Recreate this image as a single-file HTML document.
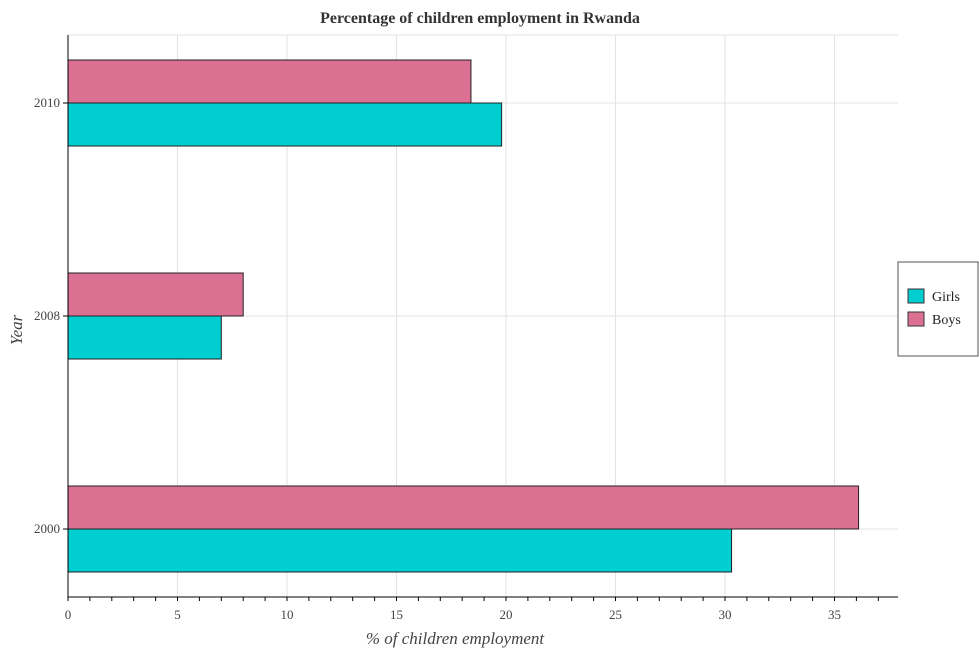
<!DOCTYPE html>
<html><head><meta charset="utf-8"><style>
body{margin:0;background:#fff;}
svg{font-family:"Liberation Serif",serif;}
</style></head><body>
<svg id="c" width="979" height="650" xmlns="http://www.w3.org/2000/svg">
<text x="480" y="23" text-anchor="middle" font-size="16" font-weight="bold" fill="#333">Percentage of children employment in Rwanda</text>
<g id="grid"></g><g id="bars"></g><g id="axes"></g>
<text x="455" y="644" text-anchor="middle" font-size="17" font-style="italic" fill="#444">% of children employment</text>
<text transform="translate(22,330) rotate(-90)" text-anchor="middle" font-size="17" font-style="italic" fill="#444">Year</text>
<g>
<rect x="898" y="262" width="80" height="94" fill="#fff" stroke="#555"/>
<rect x="908" y="289" width="16" height="14" fill="#00ced1" stroke="#333"/>
<text x="932" y="301" font-size="14" fill="#222">Girls</text>
<rect x="908" y="312" width="16" height="14" fill="#db7093" stroke="#333"/>
<text x="932" y="324" font-size="14" fill="#222">Boys</text>
</g>
</svg>
<script>
const years=["2010","2008","2000"];
const girls=[19.8,7.0,30.3];
const boys=[18.4,8.0,36.1];
const xTicks=[0,5,10,15,20,25,30,35];
const NS="http://www.w3.org/2000/svg";
const L=68,R=898,T=35,B=597,XMAX=37.9;
const xs=v=>L+v/XMAX*(R-L);
const pad=68;
const step=(B-T-2*pad)/(years.length-1);
const yc=i=>T+pad+step*i;
const bh=43;
function mk(p,tag,a){const e=document.createElementNS(NS,tag);for(const k in a)e.setAttribute(k,a[k]);p.appendChild(e);return e;}
const g=document.getElementById('grid'),b=document.getElementById('bars'),ax=document.getElementById('axes');
mk(g,'rect',{x:L,y:T,width:R-L,height:B-T,fill:'#fff'});
xTicks.forEach(t=>{const l=mk(g,'line',{x1:xs(t),x2:xs(t),y1:T,y2:B,stroke:'#e3e3e3'});

});
years.forEach((y,i)=>{const l=mk(g,'line',{x1:L,x2:R,y1:yc(i),y2:yc(i),stroke:'#e3e3e3'});

});
mk(g,'line',{x1:L,x2:R,y1:T,y2:T,stroke:'#e3e3e3'});
years.forEach((y,i)=>{
const rb=mk(b,'rect',{x:L,y:yc(i)-bh,width:xs(boys[i])-L,height:bh,fill:'#db7093',stroke:'#222'});


const rg=mk(b,'rect',{x:L,y:yc(i),width:xs(girls[i])-L,height:bh,fill:'#00ced1',stroke:'#222'});


mk(ax,'line',{x1:L-5,x2:L,y1:yc(i),y2:yc(i),stroke:'#000'});
const tl=mk(ax,'text',{x:L-8,y:yc(i)+4,'text-anchor':'end','font-size':13,fill:'#444'});
tl.textContent=y;


});
mk(ax,'line',{x1:L,x2:L,y1:T,y2:B,stroke:'#000'});
mk(ax,'line',{x1:L,x2:R,y1:B,y2:B,stroke:'#000'});
for(let v=0;v<=37;v++){mk(ax,'line',{x1:xs(v),x2:xs(v),y1:B,y2:B+4,stroke:'#000'});}
xTicks.forEach(t=>{const tl=mk(ax,'text',{x:xs(t),y:B+22,'text-anchor':'middle','font-size':13,fill:'#444'});
tl.textContent=t;

});
</script>
</body></html>
